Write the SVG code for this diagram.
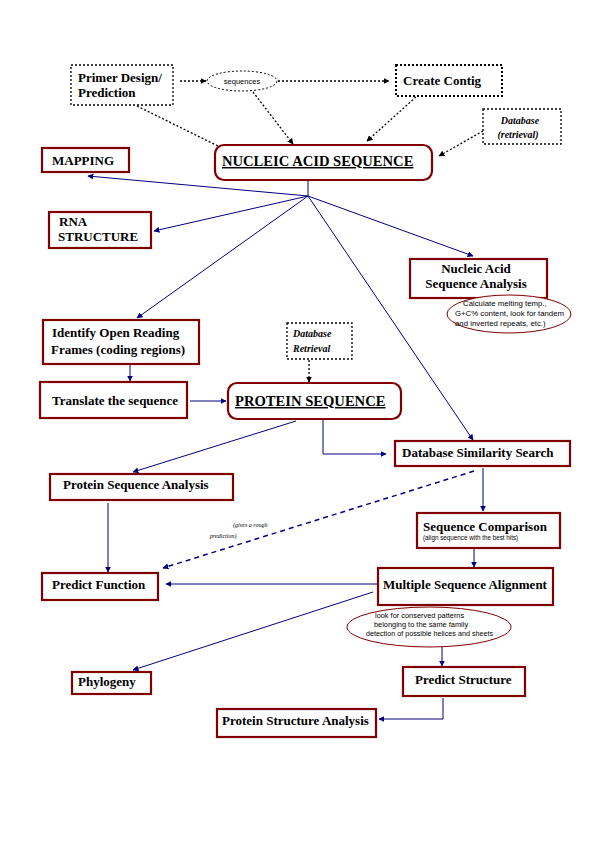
<svg xmlns="http://www.w3.org/2000/svg" width="595" height="842" viewBox="0 0 595 842">
<style>
.box{fill:#fff;stroke:#800000;stroke-width:2.2}
.dbox{fill:#fff;stroke:#000;stroke-width:1.3;stroke-dasharray:2,2}
.dbox2{fill:#fff;stroke:#000;stroke-width:2;stroke-dasharray:2,2}
.t{font-family:"Liberation Serif","Times New Roman",serif;font-weight:bold;font-size:13px;fill:#000}
.big{font-family:"Liberation Serif","Times New Roman",serif;font-weight:bold;font-size:14.6px;fill:#000;text-decoration:underline}
.it{font-family:"Liberation Serif","Times New Roman",serif;font-weight:bold;font-style:italic;font-size:10px;fill:#000}
.tiny{font-family:"Liberation Serif","Times New Roman",serif;font-style:italic;font-size:6px;fill:#000}
.sm{font-family:"Liberation Sans",Arial,sans-serif;font-size:7.8px;fill:#000}
.ell{fill:#fff;stroke:#800000;stroke-width:1}
.c{fill:none;stroke:#000080;stroke-width:1}
.d{fill:none;stroke:#000;stroke-width:1.3;stroke-dasharray:2,2}
.dash{fill:none;stroke:#000080;stroke-width:1.5;stroke-dasharray:5,4}
</style>
<defs>
<marker id="a" viewBox="0 0 10 10" refX="9" refY="5" markerWidth="6" markerHeight="6" markerUnits="userSpaceOnUse" orient="auto"><path d="M0,0 L10,5 L0,10 z" fill="#000080"/></marker>
<marker id="k" viewBox="0 0 10 10" refX="9" refY="5" markerWidth="6" markerHeight="6" markerUnits="userSpaceOnUse" orient="auto"><path d="M0,0 L10,5 L0,10 z" fill="#000"/></marker>
</defs>
<rect width="595" height="842" fill="#fff"/>

<g id="connectors">
<path class="d" d="M180,81 L206,81" marker-end="url(#k)"/>
<path class="d" d="M278,81 L389,81" marker-end="url(#k)"/>
<path class="d" d="M137,106 L218,146"/>
<path class="d" d="M253,92 L293,144" marker-end="url(#k)"/>
<path class="d" d="M416,97 L367,141" marker-end="url(#k)"/>
<path class="d" d="M483,131 L439,156" marker-end="url(#k)"/>
<path class="c" d="M308,180 L308,196"/>
<path class="c" d="M308,196 L88,176" marker-end="url(#a)"/>
<path class="c" d="M308,196 L154,231" marker-end="url(#a)"/>
<path class="c" d="M308,196 L137,318" marker-end="url(#a)"/>
<path class="c" d="M308,196 L473,256" marker-end="url(#a)"/>
<path class="c" d="M308,196 L473,440" marker-end="url(#a)"/>
<path class="c" d="M130,364 L130,381" marker-end="url(#a)"/>
<path class="c" d="M190,401 L226,401" marker-end="url(#a)"/>
<path class="d" d="M309,360 L309,382" marker-end="url(#k)"/>
<path class="c" d="M296,421 L133,472" marker-end="url(#a)"/>
<path class="c" d="M323,420 L323,454 L386,454" marker-end="url(#a)"/>
<path class="c" d="M483,468 L483,511" marker-end="url(#a)"/>
<path class="dash" d="M474,471 L163,568" marker-end="url(#a)"/>
<path class="c" d="M108,503 L108,572" marker-end="url(#a)"/>
<path class="c" d="M474,549 L474,567" marker-end="url(#a)"/>
<path class="c" d="M377,584 L166,584" marker-end="url(#a)"/>
<path class="c" d="M373,592 L133,670" marker-end="url(#a)"/>
<path class="c" d="M442,647 L442,666" marker-end="url(#a)"/>
<path class="c" d="M443,698 L443,719 L379,719" marker-end="url(#a)"/>
<text class="tiny" x="233" y="527">(gives a rough</text>
<text class="tiny" x="210" y="538">prediction)</text>
</g>

<g id="primer"><rect class="dbox" x="71" y="65" width="102" height="40"/>
<text class="t" x="78" y="82">Primer Design/</text><text class="t" x="78" y="97">Prediction</text></g>
<g id="sequences"><ellipse cx="242" cy="81" rx="35" ry="10" fill="#fff" stroke="#000" stroke-width="1" stroke-dasharray="2,2"/>
<text class="sm" x="242" y="84" text-anchor="middle" style="font-size:7.5px">sequences</text></g>
<g id="contig"><rect class="dbox2" x="396" y="65" width="106" height="31"/>
<text class="t" x="403" y="85">Create Contig</text></g>
<g id="dbret1"><rect class="dbox" x="483" y="109" width="78" height="35"/>
<text class="it" x="520" y="124" text-anchor="middle">Database</text><text class="it" x="518" y="138" text-anchor="middle">(retrieval)</text></g>
<g id="nucleic"><rect class="box" x="215" y="145" width="217" height="35" rx="9"/>
<text class="big" x="222" y="166">NUCLEIC ACID SEQUENCE</text></g>
<g id="mapping"><rect class="box" x="42" y="148" width="87" height="24"/>
<text class="t" x="52" y="165">MAPPING</text></g>
<g id="rna"><rect class="box" x="49" y="212" width="102" height="36"/>
<text class="t" x="59" y="226">RNA</text><text class="t" x="58" y="241">STRUCTURE</text></g>
<g id="nasa"><rect class="box" x="410" y="259" width="137" height="39"/>
<text class="t" x="476" y="273" text-anchor="middle">Nucleic Acid</text><text class="t" x="476" y="288" text-anchor="middle">Sequence Analysis</text></g>
<g id="note1"><ellipse class="ell" cx="509" cy="314" rx="62" ry="19"/>
<text class="sm" x="463" y="306">Calculate melting temp.,</text>
<text class="sm" x="455" y="316">G+C% content, look for tandem</text>
<text class="sm" x="455" y="326">and inverted repeats, etc.)</text></g>
<g id="orf"><rect class="box" x="43" y="320" width="156" height="44"/>
<text class="t" x="52" y="337">Identify Open Reading</text><text class="t" x="51" y="354">Frames (coding regions)</text></g>
<g id="dbret2"><rect class="dbox" x="287" y="323" width="65" height="36"/>
<text class="it" x="293" y="337">Database</text><text class="it" x="293" y="352">Retrieval</text></g>
<g id="translate"><rect class="box" x="40" y="382" width="147" height="36"/>
<text class="t" x="52" y="405">Translate the sequence</text></g>
<g id="protein"><rect class="box" x="228" y="383" width="173" height="36" rx="9"/>
<text class="big" x="235" y="406">PROTEIN SEQUENCE</text></g>
<g id="dss"><rect class="box" x="395" y="441" width="175" height="25"/>
<text class="t" x="402" y="457">Database Similarity Search</text></g>
<g id="psa"><rect class="box" x="50" y="474" width="183" height="26"/>
<text class="t" x="63" y="489">Protein Sequence Analysis</text></g>
<g id="seqcomp"><rect class="box" x="417" y="513" width="143" height="35"/>
<text class="t" x="423" y="531">Sequence Comparison</text>
<text class="sm" x="423" y="540" style="font-size:6.3px">(align sequence with the best hits)</text></g>
<g id="pf"><rect class="box" x="42" y="573" width="116" height="27"/>
<text class="t" x="52" y="589">Predict Function</text></g>
<g id="msa"><rect class="box" x="378" y="568" width="175" height="37"/>
<text class="t" x="383" y="589">Multiple Sequence Alignment</text></g>
<g id="note2"><ellipse class="ell" cx="429" cy="627" rx="82" ry="20"/>
<text class="sm" x="375" y="618" style="font-size:7.4px">look for conserved patterns</text>
<text class="sm" x="374" y="627" style="font-size:7.4px">belonging to the same family</text>
<text class="sm" x="366" y="636" style="font-size:7.2px">detection of possible helices and sheets</text></g>
<g id="phylogeny"><rect class="box" x="72" y="672" width="79" height="22"/>
<text class="t" x="78" y="686">Phylogeny</text></g>
<g id="ps"><rect class="box" x="403" y="667" width="122" height="29"/>
<text class="t" x="415" y="684">Predict Structure</text></g>
<g id="psta"><rect class="box" x="217" y="709" width="159" height="28"/>
<text class="t" x="222" y="725">Protein Structure Analysis</text></g>
</svg>
